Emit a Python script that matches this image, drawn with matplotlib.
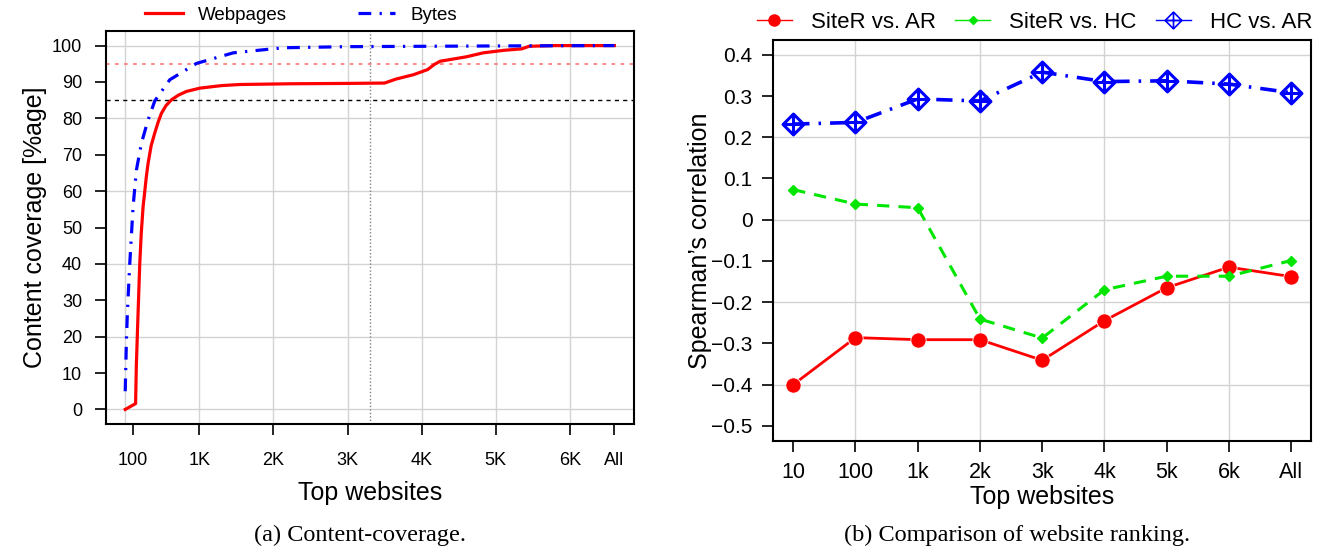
import numpy as np
import matplotlib.pyplot as plt
from matplotlib.lines import Line2D
from matplotlib.path import Path

plt.rcParams["font.family"] = ["Liberation Sans", "DejaVu Sans"]

# ---- (a) content coverage: values ----
TOTAL_SITES = 6600
pages_x = [0, 140, 150, 170, 196, 216, 241, 261, 285, 309, 350, 399, 445, 489,
           550, 624, 720, 827, 1007, 1300, 1547, 2223, 3000, 3500, 3655, 3890,
           4080, 4170, 4250, 4600, 4830, 5110, 5350, 5450, 5770, 6600]
pages_y = [0, 1.6, 12, 24.5, 40, 48.3, 55.7, 59.4, 64, 67.7, 72.5, 76, 79,
           81.4, 83.5, 85.1, 86.4, 87.4, 88.3, 89.0, 89.3, 89.5, 89.6, 89.7,
           90.8, 92, 93.4, 94.8, 95.7, 96.9, 98, 98.7, 99.1, 99.8, 100, 100]
bytes_x = [0, 16, 30, 61, 106, 151, 219, 309, 399, 601, 962, 1457, 2132,
           3000, 4000, 5000, 6600]
bytes_y = [5, 19, 27, 40, 55.7, 65.8, 73.2, 79.6, 84.8, 90.6, 95.1, 98,
           99.4, 99.7, 99.8, 99.9, 100]
cov_xticks = [100, 1000, 2000, 3000, 4000, 5000, 6000, TOTAL_SITES]
cov_xlabels = ["100", "1K", "2K", "3K", "4K", "5K", "6K", "All"]
cov_yticks = list(range(0, 101, 10))
cov_xgrid = [0, 1000, 2000, 3000, 4000, 5000, 6000]
cov_ygrid = [0, 20, 40, 60, 80, 100]
ref_high = 95
ref_low = 85
cut_x = 3300

# ---- (b) ranking comparison ----
rank_labels = ["10", "100", "1k", "2k", "3k", "4k", "5k", "6k", "All"]
siter_vs_ar = [-0.400, -0.286, -0.291, -0.291, -0.341, -0.245, -0.165, -0.115, -0.138]
siter_vs_hc = [0.073, 0.038, 0.029, -0.241, -0.287, -0.170, -0.137, -0.137, -0.099]
hc_vs_ar = [0.232, 0.236, 0.293, 0.288, 0.358, 0.335, 0.337, 0.329, 0.308]
rank_yticks = [-0.5, -0.4, -0.3, -0.2, -0.1, 0, 0.1, 0.2, 0.3, 0.4]
rank_yticklabels = ["\u22120.5", "\u22120.4", "\u22120.3", "\u22120.2", "\u22120.1",
                    "0", "0.1", "0.2", "0.3", "0.4"]
rank_ygrid = [-0.4, -0.2, 0, 0.2, 0.4]

GRID = "#d3d3d3"
GREEN = "#00e600"


def diamond_plus():
    verts = [(0, 1), (1, 0), (0, -1), (-1, 0), (0, 1),
             (0, 1), (0, -1), (-1, 0), (1, 0)]
    codes = [Path.MOVETO, Path.LINETO, Path.LINETO, Path.LINETO, Path.CLOSEPOLY,
             Path.MOVETO, Path.LINETO, Path.MOVETO, Path.LINETO]
    return Path(verts, codes)


def style_axes(ax):
    for sp in ax.spines.values():
        sp.set_linewidth(1.5)
    ax.tick_params(length=8, width=1.2, direction="out")


fig = plt.figure(figsize=(13.29, 5.49), dpi=100)

# ---------------- left panel ----------------
ax1 = fig.add_axes([0.0795, 0.2277, 0.3975, 0.7158])
style_axes(ax1)
for g in cov_xgrid:
    ax1.axvline(g, color=GRID, lw=1, zorder=0)
for g in cov_ygrid:
    ax1.axhline(g, color=GRID, lw=1, zorder=0)
ax1.axhline(ref_high, color="#ff7f7f", lw=1.3, ls=(0, (2, 3)), zorder=1)
ax1.axhline(ref_low, color="black", lw=1, ls=(0, (3, 3)), zorder=1)
ax1.axvline(cut_x, color="#808080", lw=1, ls=(0, (1, 1.5)), zorder=1)

ax1.plot(pages_x, pages_y, color="red", lw=2.3, zorder=3, label="Webpages")
ax1.plot(bytes_x, bytes_y, color="blue", lw=2.3, ls=(0, (4, 2.6, 0.7, 2.6)),
         zorder=4, label="Bytes")

pad = 0.04 * TOTAL_SITES
ax1.set_xlim(-pad, TOTAL_SITES + pad)
ax1.set_ylim(-4, 104)
ax1.set_xticks(cov_xticks)
ax1.set_xticklabels(cov_xlabels)
ax1.set_yticks(cov_yticks)
ax1.tick_params(axis="x", pad=12, labelsize=13)
ax1.tick_params(axis="y", pad=9, labelsize=13)
ax1.set_xlabel("Top websites", fontsize=18)
ax1.xaxis.label.set_va("center")
ax1.xaxis.set_label_coords(0.5, -0.176)
ax1.set_ylabel("Content coverage [%age]", fontsize=18)
ax1.yaxis.label.set_va("center")
ax1.yaxis.set_label_coords(-0.134, 0.5)

h1, l1 = ax1.get_legend_handles_labels()
fig.legend(h1, l1, loc="center", bbox_to_anchor=(301 / 1329, 1 - 15 / 549),
           ncol=2, frameon=False, fontsize=13.5, handlelength=2.0,
           handletextpad=0.8, columnspacing=3.8, borderpad=0)

# ---------------- right panel ----------------
ax2 = fig.add_axes([0.5819, 0.1973, 0.4046, 0.7299])
style_axes(ax2)
xs = np.arange(1, len(rank_labels) + 1)
for g in xs[1::2]:
    ax2.axvline(g, color=GRID, lw=1, zorder=0)
for g in rank_ygrid:
    ax2.axhline(g, color=GRID, lw=1, zorder=0)

ax2.plot(xs, siter_vs_ar, color="red", lw=2, marker="o", ms=11,
         mec="white", mew=0.6, zorder=3)
ax2.plot(xs, siter_vs_hc, color=GREEN, lw=2.2, ls=(0, (4, 3)), marker="D",
         ms=5.2, zorder=4)
ax2.plot(xs, hc_vs_ar, color="blue", lw=2.6, ls=(0, (4.5, 2.5, 0.7, 2.5)),
         marker=diamond_plus(), ms=15, mfc="none", mec="blue", mew=2.2, zorder=5)

ax2.set_xlim(1 - 0.32, len(rank_labels) + 0.32)
ax2.set_ylim(-0.536, 0.436)
ax2.set_xticks(xs)
ax2.set_xticklabels(rank_labels)
ax2.set_yticks(rank_yticks)
ax2.set_yticklabels(rank_yticklabels)
ax2.tick_params(axis="x", pad=7, labelsize=15.5)
ax2.tick_params(axis="y", pad=7, labelsize=15)
ax2.set_xlabel("Top websites", fontsize=18)
ax2.xaxis.label.set_va("center")
ax2.xaxis.set_label_coords(0.5, -0.1405)
ax2.set_ylabel("Spearman\u2019s correlation", fontsize=18)
ax2.yaxis.label.set_va("center")
ax2.yaxis.set_label_coords(-0.136, 0.5)

handles = [
    Line2D([], [], color="red", lw=1, marker="o", ms=8),
    Line2D([], [], color=GREEN, lw=1, marker="D", ms=4.5),
    Line2D([], [], color="blue", lw=1, marker=diamond_plus(), ms=12,
           mfc="none", mew=1.2),
]
fig.legend(handles, ["SiteR vs. AR", "SiteR vs. HC", "HC vs. AR"], loc="center",
           bbox_to_anchor=(1034.5 / 1329, 1 - 22 / 549), ncol=3, frameon=False,
           fontsize=16, handlelength=1.6, handletextpad=0.85, columnspacing=0.85,
           borderpad=0)

# captions
fig.text(360 / 1329, 1 - 535 / 549, "(a) Content-coverage.", ha="center",
         va="center", fontsize=17.5, family="Liberation Serif")
fig.text(1017 / 1329, 1 - 535 / 549, "(b) Comparison of website ranking.",
         ha="center", va="center", fontsize=17.5, family="Liberation Serif")

fig.savefig("out.png", dpi=100)
